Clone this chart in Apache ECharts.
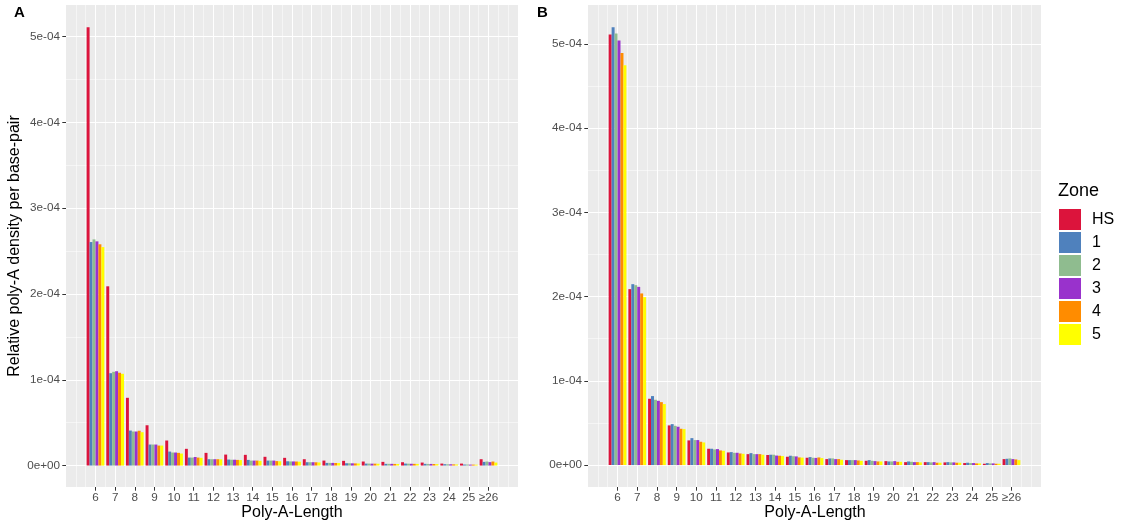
<!DOCTYPE html>
<html><head><meta charset="utf-8">
<script src="https://cdn.jsdelivr.net/npm/echarts@6/dist/echarts.min.js"></script>
<style>html,body{margin:0;padding:0;background:#fff}#c{width:1124px;height:529px}</style>
</head><body><div id="c"></div>
<script>
// ---- data (values in units of 1e-04) ----
const lengths = ['6','7','8','9','10','11','12','13','14','15','16','17','18','19','20','21','22','23','24','25','≥26'];
const zones = ['HS','1','2','3','4','5'];
const zoneColors = ['#DC143C','#4F81BD','#8FBC8F','#9932CC','#FF8C00','#FFFF00'];
const yTickValues = [0,1,2,3,4,5];
const yTickLabels = ['0e+00','1e-04','2e-04','3e-04','4e-04','5e-04'];

// Panel A
const A_HS = [5.11,2.09,0.79,0.47,0.292,0.195,0.148,0.128,0.125,0.102,0.09,0.074,0.058,0.055,0.047,0.043,0.039,0.035,0.023,0.023,0.074];
const A_Z1 = [2.606,1.077,0.408,0.245,0.163,0.093,0.074,0.07,0.066,0.058,0.05,0.039,0.031,0.027,0.023,0.02,0.023,0.02,0.016,0.012,0.043];
const A_Z2 = [2.637,1.093,0.397,0.245,0.152,0.093,0.074,0.068,0.058,0.058,0.048,0.039,0.031,0.027,0.023,0.02,0.022,0.019,0.015,0.012,0.047];
const A_Z3 = [2.614,1.10,0.397,0.245,0.152,0.10,0.074,0.068,0.058,0.058,0.048,0.039,0.031,0.026,0.022,0.02,0.021,0.019,0.015,0.011,0.040];
const A_Z4 = [2.58,1.082,0.406,0.233,0.148,0.093,0.074,0.066,0.058,0.052,0.047,0.038,0.03,0.025,0.022,0.019,0.02,0.018,0.014,0.011,0.047];
const A_Z5 = [2.547,1.07,0.389,0.233,0.14,0.09,0.072,0.064,0.055,0.05,0.045,0.036,0.029,0.024,0.021,0.018,0.019,0.017,0.013,0.01,0.035];
// Panel B
const B_HS = [5.109,2.088,0.787,0.471,0.293,0.194,0.15,0.13,0.12,0.099,0.087,0.071,0.059,0.051,0.047,0.035,0.035,0.032,0.024,0.016,0.071];
const B_Z1 = [5.196,2.147,0.819,0.486,0.32,0.194,0.154,0.142,0.123,0.111,0.095,0.079,0.059,0.059,0.043,0.043,0.035,0.035,0.028,0.024,0.075];
const B_Z2 = [5.121,2.135,0.775,0.466,0.297,0.186,0.146,0.13,0.123,0.105,0.087,0.079,0.059,0.051,0.043,0.039,0.032,0.032,0.024,0.02,0.079];
const B_Z3 = [5.04,2.115,0.763,0.455,0.297,0.19,0.146,0.13,0.113,0.103,0.085,0.071,0.059,0.047,0.047,0.035,0.035,0.032,0.024,0.02,0.071];
const B_Z4 = [4.89,2.037,0.747,0.431,0.277,0.174,0.138,0.13,0.111,0.091,0.091,0.071,0.055,0.043,0.039,0.035,0.028,0.028,0.02,0.016,0.067];
const B_Z5 = [4.745,1.993,0.724,0.427,0.269,0.17,0.134,0.123,0.107,0.089,0.083,0.063,0.051,0.043,0.039,0.032,0.028,0.028,0.02,0.016,0.059];

const panelA = [A_HS,A_Z1,A_Z2,A_Z3,A_Z4,A_Z5];
const panelB = [B_HS,B_Z1,B_Z2,B_Z3,B_Z4,B_Z5];

// ---- layout ----
const FONT = '"Liberation Sans", Arial, Helvetica, sans-serif';
const panels = [
  {left:66, width:452, top:5, height:482, ymin:-0.25, ymax:5.37, data:panelA},
  {left:588, width:453, top:5, height:482, ymin:-0.26, ymax:5.46, data:panelB}
];

const grids = [], xAxes = [], yAxes = [], series = [];
// x gridline positions in tenths from 4.5 to 27.5
const xGridVals = [];
for (let k = 45; k <= 275; k += 5) xGridVals.push(k);
const barCats = [' '].concat(lengths, ['  ']);

panels.forEach((p, pi) => {
  grids.push({left:p.left, top:p.top, width:p.width, height:p.height, show:true,
    backgroundColor:'#EBEBEB', borderWidth:0});
  const xb = pi*3, yb = pi*3;
  // bar category axis
  xAxes.push({type:'category', gridIndex:pi, position:'bottom', data:barCats, boundaryGap:true,
    axisLine:{show:false, onZero:false},
    axisTick:{show:true, alignWithLabel:true, length:3.7, lineStyle:{color:'#333333', width:1},
      interval:(i)=> i>0 && i<barCats.length-1},
    axisLabel:{show:true, interval:0, color:'#4D4D4D', fontSize:11.7, fontFamily:FONT, margin:5},
    splitLine:{show:false}, z:3});
  // major x gridlines
  xAxes.push({type:'category', gridIndex:pi, position:'bottom', data:xGridVals.map(String), boundaryGap:false,
    axisLine:{show:false, onZero:false}, axisTick:{show:false}, axisLabel:{show:false},
    splitLine:{show:true, interval:(i)=>{const k=xGridVals[i]; return k%10===0 && k>=60 && k<=260;},
      lineStyle:{color:'#FFFFFF', width:1.07}}});
  // minor x gridlines
  xAxes.push({type:'category', gridIndex:pi, position:'bottom', data:xGridVals.map(String), boundaryGap:false,
    axisLine:{show:false, onZero:false}, axisTick:{show:false}, axisLabel:{show:false},
    splitLine:{show:true, interval:(i)=>{const k=xGridVals[i]; if(k===45||k===275) return false; return !(k%10===0 && k>=60 && k<=260);},
      lineStyle:{color:'#FFFFFF', width:0.53}}});

  // y data axis
  yAxes.push({type:'value', gridIndex:pi, position:'left', min:p.ymin, max:p.ymax, show:false,
    axisLine:{onZero:false}, splitLine:{show:false}});
  // y gridline axes (hundredths)
  const k0 = Math.round(p.ymin*100), k1 = Math.round(p.ymax*100);
  const yVals = [];
  for (let k = k0; k <= k1; k++) yVals.push(k);
  const majorK = yTickValues.map(v => Math.round(v*100));
  yAxes.push({type:'category', gridIndex:pi, position:'left', offset:0, data:yVals.map(String), boundaryGap:false,
    axisLine:{show:false, onZero:false},
    axisTick:{show:true, length:3.7, lineStyle:{color:'#333333', width:1},
      interval:(i)=> majorK.indexOf(yVals[i])>=0},
    axisLabel:{show:true, color:'#4D4D4D', fontSize:11.7, fontFamily:FONT, margin:6,
      interval:(i)=> majorK.indexOf(yVals[i])>=0,
      formatter:(v)=>{const idx=majorK.indexOf(Number(v)); return idx>=0 ? yTickLabels[idx] : '';}},
    splitLine:{show:true, interval:(i)=> majorK.indexOf(yVals[i])>=0,
      lineStyle:{color:'#FFFFFF', width:1.07}}});
  yAxes.push({type:'category', gridIndex:pi, position:'left', offset:0, data:yVals.map(String), boundaryGap:false,
    axisLine:{show:false, onZero:false}, axisTick:{show:false}, axisLabel:{show:false},
    splitLine:{show:true, interval:(i)=>{const k=yVals[i]; return k>0 && ((k%100)===50);},
      lineStyle:{color:'#FFFFFF', width:0.53}}});

  zones.forEach((z, zi) => {
    series.push({type:'bar', name:z, xAxisIndex:xb, yAxisIndex:yb,
      data:[null].concat(p.data[zi], [null]),
      itemStyle:{color:zoneColors[zi]},
      barGap:'0%', barCategoryGap:'10%', z:2, silent:true});
  });
});

const chart = echarts.init(document.getElementById('c'), null, {renderer:'canvas'});
chart.setOption({
  animation:false,
  backgroundColor:'#FFFFFF',
  grid:grids, xAxis:xAxes, yAxis:yAxes, series:series,
  legend:{data:zones, orient:'vertical', left:1059, top:209, padding:0, itemWidth:22, itemHeight:21, itemGap:2,
    icon:'rect', selectedMode:false,
    textStyle:{fontSize:16, color:'#000000', fontFamily:FONT, lineHeight:21, padding:[0,0,0,6]}},
  graphic:[
    {type:'text', left:14, top:5, style:{text:'A', font:'bold 15px '+FONT, fill:'#000'}},
    {type:'text', left:537, top:5, style:{text:'B', font:'bold 15px '+FONT, fill:'#000'}},
    {type:'text', x:15, y:246, rotation:Math.PI/2,
      style:{text:'Relative poly-A density per base-pair', font:'16px '+FONT, fill:'#000',
        align:'center', verticalAlign:'middle', textAlign:'center', textVerticalAlign:'middle'}},
    {type:'text', x:292, y:513,
      style:{text:'Poly-A-Length', font:'16px '+FONT, fill:'#000',
        align:'center', verticalAlign:'middle', textAlign:'center', textVerticalAlign:'middle'}},
    {type:'text', x:815, y:513,
      style:{text:'Poly-A-Length', font:'16px '+FONT, fill:'#000',
        align:'center', verticalAlign:'middle', textAlign:'center', textVerticalAlign:'middle'}},
    {type:'text', x:1058, y:191,
      style:{text:'Zone', font:'18px '+FONT, fill:'#000',
        align:'left', verticalAlign:'middle', textAlign:'left', textVerticalAlign:'middle'}}
  ]
});
</script>
</body></html>
